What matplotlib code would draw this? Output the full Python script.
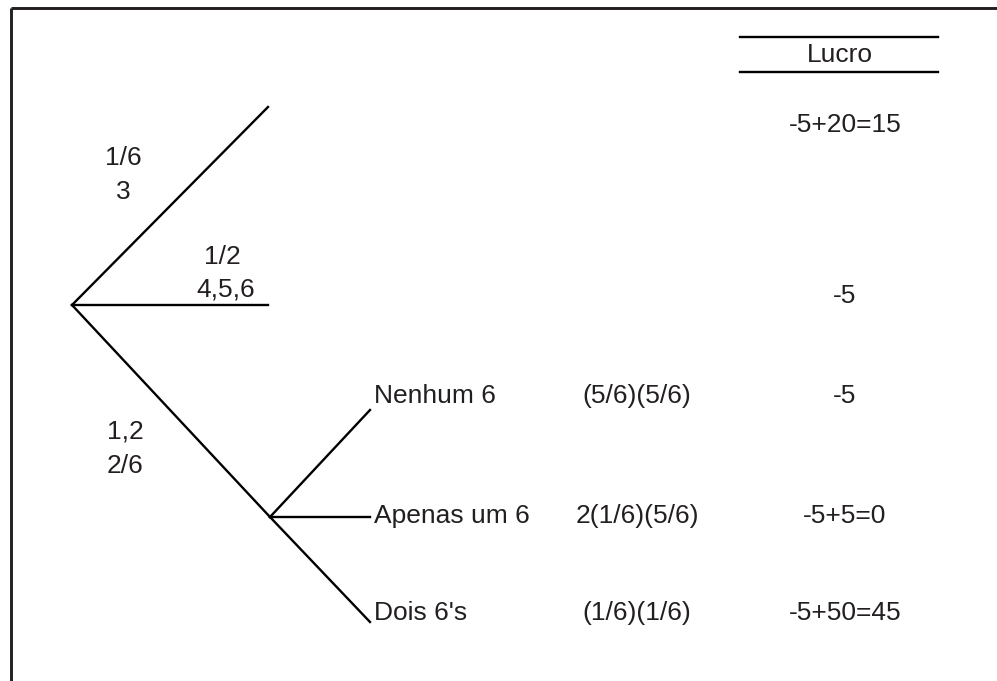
import matplotlib.pyplot as plt

plt.rcParams['font.family'] = ['Liberation Sans', 'DejaVu Sans']

# ---------------------------------------------------------------------------
# Data
# ---------------------------------------------------------------------------
first_probs = ["1/6", "1/2", "2/6"]
first_events = ["3", "4,5,6", "1,2"]
first_profits = ["-5+20=15", "-5"]
second_outcomes = ["Nenhum 6", "Apenas um 6", "Dois 6's"]
second_probs = ["(5/6)(5/6)", "2(1/6)(5/6)", "(1/6)(1/6)"]
second_profits = ["-5", "-5+5=0", "-5+50=45"]
header = "Lucro"

# ---------------------------------------------------------------------------
# Layout (pixel coordinates, y grows downward)
# ---------------------------------------------------------------------------
W, H = 997, 681
root = (72, 305)
first_ends = [(268, 107), (268, 305), (270, 517)]
sub_ends = [(370, 410), (370, 517), (370, 622)]
rows_y = [396, 516, 613]
lw = 1.7
fs = 19

fig = plt.figure(figsize=(W / 100, H / 100), dpi=100)
ax = fig.add_axes([0, 0, 1, 1])
ax.set_xlim(0, W)
ax.set_ylim(H, 0)
ax.axis("off")

# frame (top and left only)
ax.plot([11, W + 5], [8, 8], color="#231f20", lw=lw + 0.4, solid_capstyle="butt")
ax.plot([11, 11], [8, H + 5], color="#231f20", lw=lw + 0.4, solid_capstyle="butt")

# first stage branches
for (x, y) in first_ends:
    ax.plot([root[0], x], [root[1], y], color="black", lw=lw)
# second stage branches
node = first_ends[2]
for (x, y) in sub_ends:
    ax.plot([node[0], x], [node[1], y], color="black", lw=lw)

kw = dict(fontsize=fs, color="#231f20", va="center")

# first-stage labels
ax.text(123, 158, first_probs[0], ha="center", **kw)
ax.text(123, 192, first_events[0], ha="center", **kw)
ax.text(222, 257, first_probs[1], ha="center", **kw)
ax.text(226, 290, first_events[1], ha="center", **kw)
ax.text(125, 432, first_events[2], ha="center", **kw)
ax.text(125, 466, first_probs[2], ha="center", **kw)

# header
ax.plot([740, 938], [37, 37], color="black", lw=lw)
ax.plot([740, 938], [72, 72], color="black", lw=lw)
ax.text(840, 55, header, ha="center", **kw)

# profits of first stage
ax.text(845, 125, first_profits[0], ha="center", **kw)
ax.text(845, 296, first_profits[1], ha="center", **kw)

# second stage rows
for i, y in enumerate(rows_y):
    ax.text(374, y, second_outcomes[i], ha="left", **kw)
    ax.text(637, y, second_probs[i], ha="center", **kw)
    ax.text(845, y, second_profits[i], ha="center", **kw)

fig.savefig("out.png", dpi=100)
